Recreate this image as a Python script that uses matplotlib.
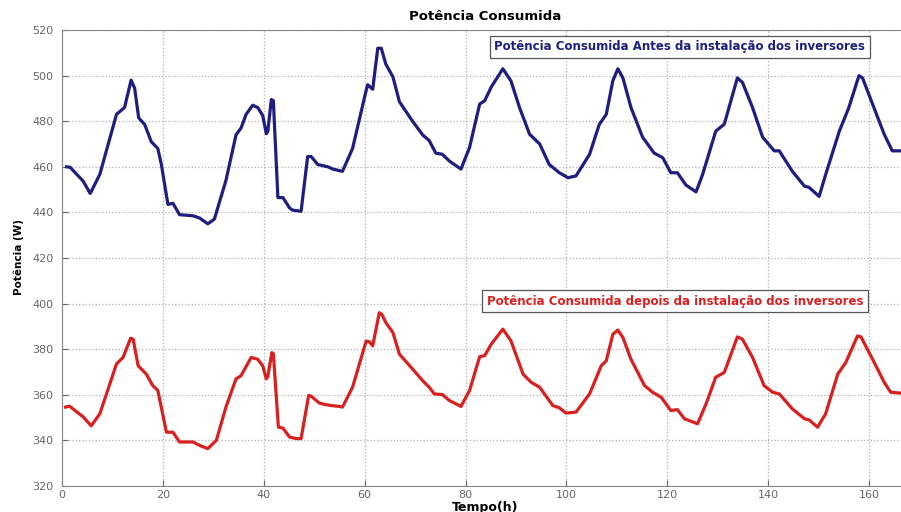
import matplotlib
matplotlib.use("Agg")
import matplotlib.pyplot as plt
import numpy as np

plt.rcParams['font.family'] = ['DejaVu Sans']

# Blue series: before inverter installation (hour, W)
hours_before = [0.9, 1.6, 4.2, 5.6, 7.5, 10.8, 12.4, 13.7, 14.4, 15.2, 16.4, 17.7, 19.0, 19.7,
                21.0, 22.0, 23.3, 26.0, 27.3, 28.9, 30.2, 32.5, 34.5, 35.5, 36.5, 37.8, 38.8,
                39.8, 40.5, 40.8, 41.5, 41.9, 42.8, 43.8, 45.1, 45.7, 47.4, 48.7, 49.4, 50.7,
                52.7, 53.7, 55.6, 57.6, 60.3, 60.6, 61.6, 62.6, 63.3, 64.2, 65.6, 66.9, 69.5,
                71.5, 72.8, 74.1, 75.4, 76.8, 79.1, 80.8, 82.8, 83.8, 85.1, 87.4, 89.0, 90.7,
                92.7, 94.7, 96.6, 98.6, 100.3, 101.9, 104.6, 106.5, 107.9, 109.2, 110.2, 111.2,
                112.8, 115.1, 117.4, 119.1, 120.7, 122.0, 123.7, 125.7, 127.0, 129.6, 131.3,
                133.9, 134.9, 136.9, 138.9, 141.2, 142.2, 144.8, 147.2, 148.1, 150.1, 151.4,
                154.1, 156.0, 158.0, 158.7, 160.7, 163.0, 164.6, 166.5]
power_before = [460, 459.8, 453.7, 448.3, 456.7, 483, 486, 498, 494.5, 481.5, 478.5, 471, 468, 461,
                443.5, 444, 439, 438.5, 437.5, 435, 437, 454, 474, 477, 483, 487, 486,
                482.5, 474.5, 475.5, 489.5, 489, 446.5, 446.5, 442, 441, 440.5, 464.5, 464.5, 461,
                460, 459, 458, 468, 493.5, 496, 494, 512, 512, 505, 499.5, 488.5, 480,
                474, 471.5, 466, 465.5, 462.5, 459, 468.5, 487.5, 489, 495, 503, 497.7, 486,
                474.3, 470, 461, 457.4, 455.2, 456, 465.5, 478.5, 483, 497.7, 503, 499,
                486, 473, 466, 464, 457.4, 457.4, 452, 449, 456.6, 475.6, 478.7,
                499, 497, 486, 473, 467, 467, 458, 451.5, 451, 447, 456.6,
                475.6, 486, 500, 499, 487.5, 474.3, 467, 467]

# Red series: after inverter installation (hour, W)
hours_after = [0.7, 1.5, 4.2, 5.8, 7.5, 10.8, 12.1, 13.6, 14.1, 15.1, 16.7, 18.0, 19.0, 20.7,
               22.0, 23.3, 26.0, 27.3, 28.9, 30.6, 32.5, 34.5, 35.5, 37.5, 38.8, 39.8, 40.5,
               40.8, 41.6, 41.9, 42.9, 43.8, 45.1, 46.4, 47.4, 48.9, 49.4, 51.0, 52.0, 53.3,
               55.0, 55.6, 57.6, 60.3, 60.9, 61.6, 62.9, 63.4, 64.2, 65.6, 66.9, 69.5, 71.5,
               72.8, 73.8, 75.4, 76.8, 79.1, 80.8, 82.8, 83.8, 85.1, 87.4, 89.0, 91.4, 93.0,
               94.7, 97.3, 98.6, 99.9, 101.9, 104.6, 106.9, 107.9, 109.2, 110.2, 111.2, 112.8,
               115.5, 117.1, 118.8, 120.7, 122.0, 123.4, 126.0, 127.7, 129.6, 131.3, 133.9,
               134.9, 136.9, 139.2, 140.9, 142.2, 144.8, 147.2, 148.1, 149.8, 151.4, 153.8,
               155.4, 157.7, 158.4, 160.7, 163.0, 164.3, 166.5]
power_after = [354.6, 355, 350.3, 346.4, 351.7, 373.5, 376.4, 384.8, 384.4, 372.7, 369.1, 364, 361.9, 343.6,
               343.6, 339.3, 339.3, 337.8, 336.4, 340, 354.6, 367, 368.4, 376.4, 375.6, 372.7, 367,
               368, 378.5, 378, 345.8, 345.4, 341.5, 340.8, 340.8, 359.7, 359.4, 356.4, 355.8, 355.3,
               354.9, 354.6, 363.3, 383.6, 383.3, 381.5, 396, 395.3, 391.7, 387.3, 377.8, 371.3, 366.2,
               363.3, 360.4, 360.1, 357.5, 354.9, 361.9, 376.7, 377.2, 382.2, 388.8, 383.7, 369.1, 365.5,
               363.3, 355.3, 354.3, 352, 352.4, 360.4, 372.7, 374.9, 386.5, 388.4, 385.1, 375.6,
               364, 361.1, 358.9, 353.1, 353.5, 349.5, 347.3, 356.1, 367.7, 369.8, 385.4,
               384.4, 376.4, 364, 361.1, 360.4, 353.8, 349.5, 349, 345.8, 351.7, 369.1,
               374.2, 385.8, 385.4, 375.6, 365.5, 361.1, 360.7]

x_ticks = [0, 20, 40, 60, 80, 100, 120, 140, 160]
y_ticks = [320, 340, 360, 380, 400, 420, 440, 460, 480, 500, 520]

title = "Potência Consumida"
xlabel = "Tempo(h)"
ylabel = "Potência (W)"
label_before = "Potência Consumida Antes da instalação dos inversores"
label_after = "Potência Consumida depois da instalação dos inversores"

fig = plt.figure(figsize=(9.01, 5.12), dpi=100)
ax = fig.add_axes([62/901, 1 - 486/512, 847.4/901, 456/512])

ax.plot(hours_before, power_before, color='#1e1e80', lw=2.3, solid_joinstyle='round')
ax.plot(hours_after, power_after, color='#d82020', lw=2.3, solid_joinstyle='round')

ax.set_xlim(0, 168)
ax.set_ylim(320, 520)
ax.set_xticks(x_ticks)
ax.set_yticks(y_ticks)
ax.tick_params(direction='in', length=4, labelsize=8, colors='#666666', labelcolor='#666666')
ax.tick_params(axis='y', pad=6)
ax.tick_params(axis='x', pad=3)
ax.grid(True, linestyle=':', color='#b0b0b0', lw=0.9)
for s in ax.spines.values():
    s.set_color('#888888')

fig.text(485/901, 1 - 16/512, title, fontsize=9.5, fontweight='bold', ha='center', va='center')
fig.text(485/901, 1 - 507/512, xlabel, fontsize=9, fontweight='bold', ha='center', va='center')
fig.text(19/901, 1 - 257/512, ylabel, fontsize=7.5, fontweight='bold', ha='center', va='center',
         rotation=90)

ax.text(122.5, 512.6, label_before, color='#1e1e80', fontsize=8.5, fontweight='bold',
        ha='center', va='center',
        bbox=dict(boxstyle='square,pad=0.4', fc='white', ec='#555555', lw=0.9))
ax.text(121.6, 401.1, label_after, color='#d82020', fontsize=8.5, fontweight='bold',
        ha='center', va='center',
        bbox=dict(boxstyle='square,pad=0.4', fc='white', ec='#555555', lw=0.9))

fig.savefig("out.png", dpi=100, facecolor='white')
